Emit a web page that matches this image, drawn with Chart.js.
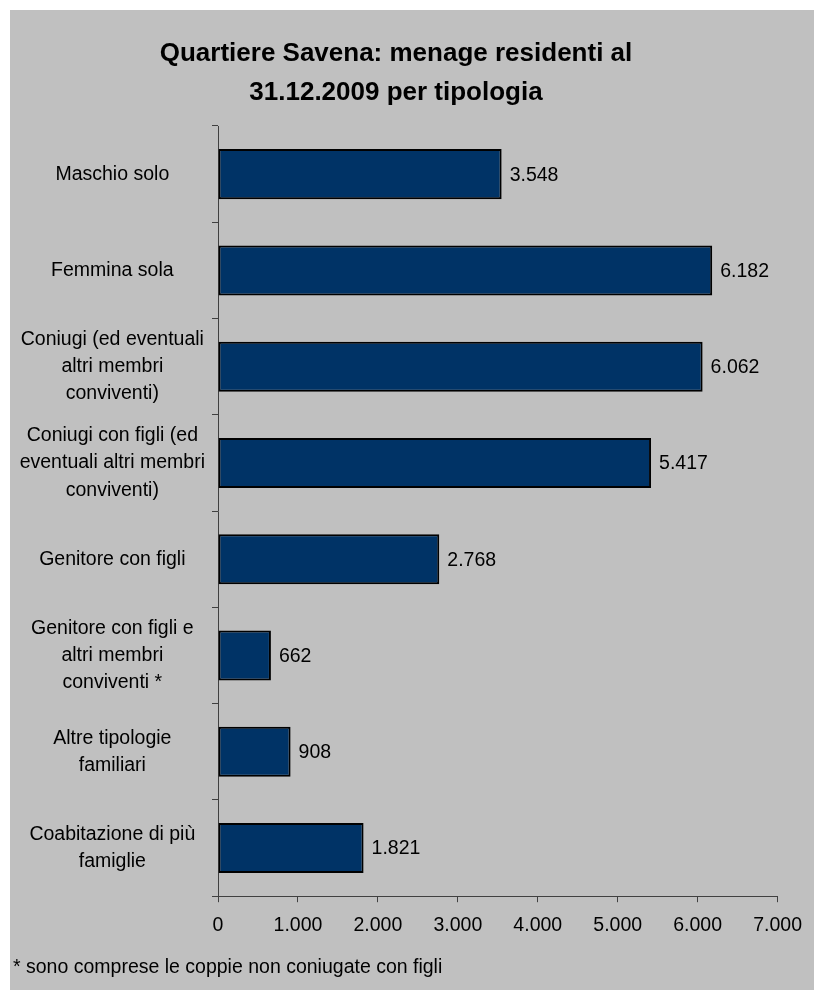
<!DOCTYPE html>
<html lang="it">
<head>
<meta charset="utf-8">
<title>Quartiere Savena: menage residenti al 31.12.2009 per tipologia</title>
<script src="https://cdn.jsdelivr.net/npm/chart.js@4/dist/chart.umd.min.js"></script>
<style>
  html, body { margin: 0; padding: 0; background: #ffffff; }
  .riquadro {
    position: absolute;
    left: 10px;
    top: 10px;
    width: 804px;
    height: 980px;
    background: #c0c0c0;
  }
</style>
</head>
<body>
<div class="riquadro">
  <canvas id="grafico-menage"></canvas>
</div>
<script>
// tipologie di menage (righe del grafico)
const tipologie = [
  'Maschio solo',
  'Femmina sola',
  ['Coniugi (ed eventuali', 'altri membri', 'conviventi)'],
  ['Coniugi con figli (ed', 'eventuali altri membri', 'conviventi)'],
  'Genitore con figli',
  ['Genitore con figli e', 'altri membri', 'conviventi *'],
  ['Altre tipologie', 'familiari'],
  ['Coabitazione di più', 'famiglie']
];
// numero di menage residenti
const menage = [3548, 6182, 6062, 5417, 2768, 662, 908, 1821];
// asse dei valori
const asseMin = 0;
const asseMax = 7000;
const passoAsse = 1000;

const titolo = ['Quartiere Savena: menage residenti al', '31.12.2009 per tipologia'];
const nota = '* sono comprese le coppie non coniugate con figli';

const FONT = 'Arial, "Liberation Sans", Helvetica, sans-serif';
const colAsse = '#404040';

// separatore delle migliaia con il punto
function formatta(n) {
  return String(Math.round(n)).replace(/\B(?=(\d{3})+(?!\d))/g, '.');
}

// scrive il valore a destra di ogni barra
const etichetteValori = {
  id: 'etichetteValori',
  afterDatasetsDraw(chart) {
    const ctx = chart.ctx;
    const meta = chart.getDatasetMeta(0);
    ctx.save();
    ctx.font = '19.5px ' + FONT;
    ctx.fillStyle = '#000000';
    ctx.textAlign = 'left';
    ctx.textBaseline = 'middle';
    meta.data.forEach((barra, i) => {
      ctx.fillText(formatta(menage[i]), barra.x + 8, barra.y + 1);
    });
    ctx.restore();
  }
};

window.onload = function () {
  const ctx = document.getElementById('grafico-menage').getContext('2d');
  new Chart(ctx, {
    type: 'bar',
    data: {
      labels: tipologie,
      datasets: [{
        data: menage,
        backgroundColor: '#003366',
        borderColor: '#000000',
        borderWidth: 2,
        borderSkipped: false,
        categoryPercentage: 1,
        barPercentage: 0.52
      }]
    },
    options: {
      indexAxis: 'y',
      responsive: true,
      maintainAspectRatio: false,
      animation: false,
      layout: { padding: { left: 3, right: 35, top: 0, bottom: 0 } },
      plugins: {
        legend: { display: false },
        tooltip: { enabled: false },
        title: {
          display: true,
          text: titolo,
          color: '#000000',
          font: { family: FONT, size: 26, weight: 'bold', lineHeight: 1.5 },
          padding: { top: 24, bottom: 14 }
        },
        subtitle: {
          display: true,
          text: nota,
          position: 'bottom',
          align: 'start',
          color: '#000000',
          font: { family: FONT, size: 19.5, lineHeight: 1.2 },
          padding: { top: 6, bottom: 11 }
        }
      },
      scales: {
        x: {
          min: asseMin,
          max: asseMax,
          border: { color: colAsse, width: 1 },
          grid: { drawOnChartArea: false, tickLength: 6, color: colAsse },
          ticks: {
            stepSize: passoAsse,
            color: '#000000',
            padding: 12,
            maxRotation: 0,
            font: { family: FONT, size: 19.5, lineHeight: 1.2 },
            callback: (v) => formatta(v)
          }
        },
        y: {
          border: { color: colAsse, width: 1 },
          grid: { drawOnChartArea: false, offset: true, tickLength: 6, color: colAsse },
          ticks: {
            color: '#000000',
            crossAlign: 'center',
            padding: 7,
            font: { family: FONT, size: 19.5, lineHeight: 1.4 }
          },
          afterFit(scala) {
            scala.width = 205;
          }
        }
      }
    },
    plugins: [etichetteValori]
  });
};
</script>
</body>
</html>
